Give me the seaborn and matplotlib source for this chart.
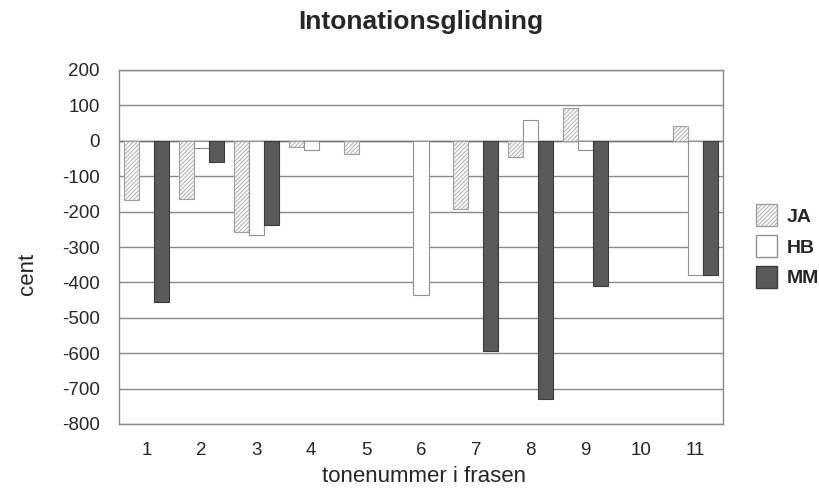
import matplotlib
matplotlib.use("Agg")
import matplotlib.pyplot as plt
import seaborn as sns
import numpy as np
import pandas as pd
from matplotlib.patches import Patch

categories = ["1", "2", "3", "4", "5", "6", "7", "8", "9", "10", "11"]
ja = [-167, -163, -257, -18, -38, np.nan, -192, -45, 93, np.nan, 43]
hb = [np.nan, -20, -265, -25, np.nan, -437, np.nan, 58, -25, np.nan, -380]
mm = [-455, -60, -237, np.nan, np.nan, np.nan, -595, -728, -410, np.nan, -380]
series = ["JA", "HB", "MM"]
yticks = list(range(-800, 201, 100))

rows = []
for name, vals in zip(series, [ja, hb, mm]):
    for c, v in zip(categories, vals):
        rows.append({"tone": c, "serie": name, "cent": v})
df = pd.DataFrame(rows)

sns.set_style("white")
plt.rcParams["font.family"] = ["Liberation Sans", "DejaVu Sans"]
plt.rcParams["hatch.color"] = "#a8a8a8"
plt.rcParams["hatch.linewidth"] = 0.5

fig = plt.figure(figsize=(8.19, 4.88), dpi=100)
ax = fig.add_axes([119/819, 1-424/488, (723-119)/819, (424-70)/488])

face = {"JA": "#f6f6f6", "HB": "#ffffff", "MM": "#5a5a5a"}
edge = {"JA": "#a0a0a0", "HB": "#909090", "MM": "#3a3a3a"}
sns.barplot(data=df, x="tone", y="cent", hue="serie", order=categories,
            hue_order=series, palette=face, width=0.82, ax=ax,
            legend=False, zorder=3, saturation=1)

for cont, name in zip(ax.containers, series):
    for p in cont:
        p.set_edgecolor(edge[name])
        p.set_linewidth(0.8)
        if name == "JA":
            p.set_hatch("////////")

ax.set_ylim(-800, 200)
ax.set_yticks(yticks)
ax.set_yticklabels([str(t) for t in yticks], fontsize=13.5)
ax.tick_params(axis="x", labelsize=13.5, length=0, pad=13)
ax.tick_params(axis="y", length=0, pad=14)
ax.yaxis.grid(True, color="#8a8a8a", linewidth=1, zorder=0)
ax.set_axisbelow(True)
for s in ax.spines.values():
    s.set_color("#8a8a8a")
    s.set_linewidth(1)
ax.axhline(0, color="#707070", linewidth=1, zorder=2)

ax.set_xlabel("")
ax.set_ylabel("")
fig.text(424/819, 1-476/488, "tonenummer i frasen", ha="center", va="center",
         fontsize=16)
fig.text(28/819, 1-274/488, "cent", rotation=90, ha="center", va="center",
         fontsize=16)
fig.text(421/819, 1-22/488, "Intonationsglidning", ha="center", va="center",
         fontsize=19, fontweight="bold")

handles = []
for name in series:
    handles.append(Patch(facecolor=face[name], edgecolor=edge[name],
                         hatch="////////" if name == "JA" else None, label=name))
leg = fig.legend(handles=handles, loc="center left",
                 bbox_to_anchor=(752/819, 1-246/488), frameon=False,
                 prop={"weight": "bold", "size": 14}, handlelength=1.08,
                 handleheight=1.3, labelspacing=0.5, handletextpad=0.5,
                 borderpad=0.2, borderaxespad=0.0)

fig.savefig("out.png", dpi=100)
